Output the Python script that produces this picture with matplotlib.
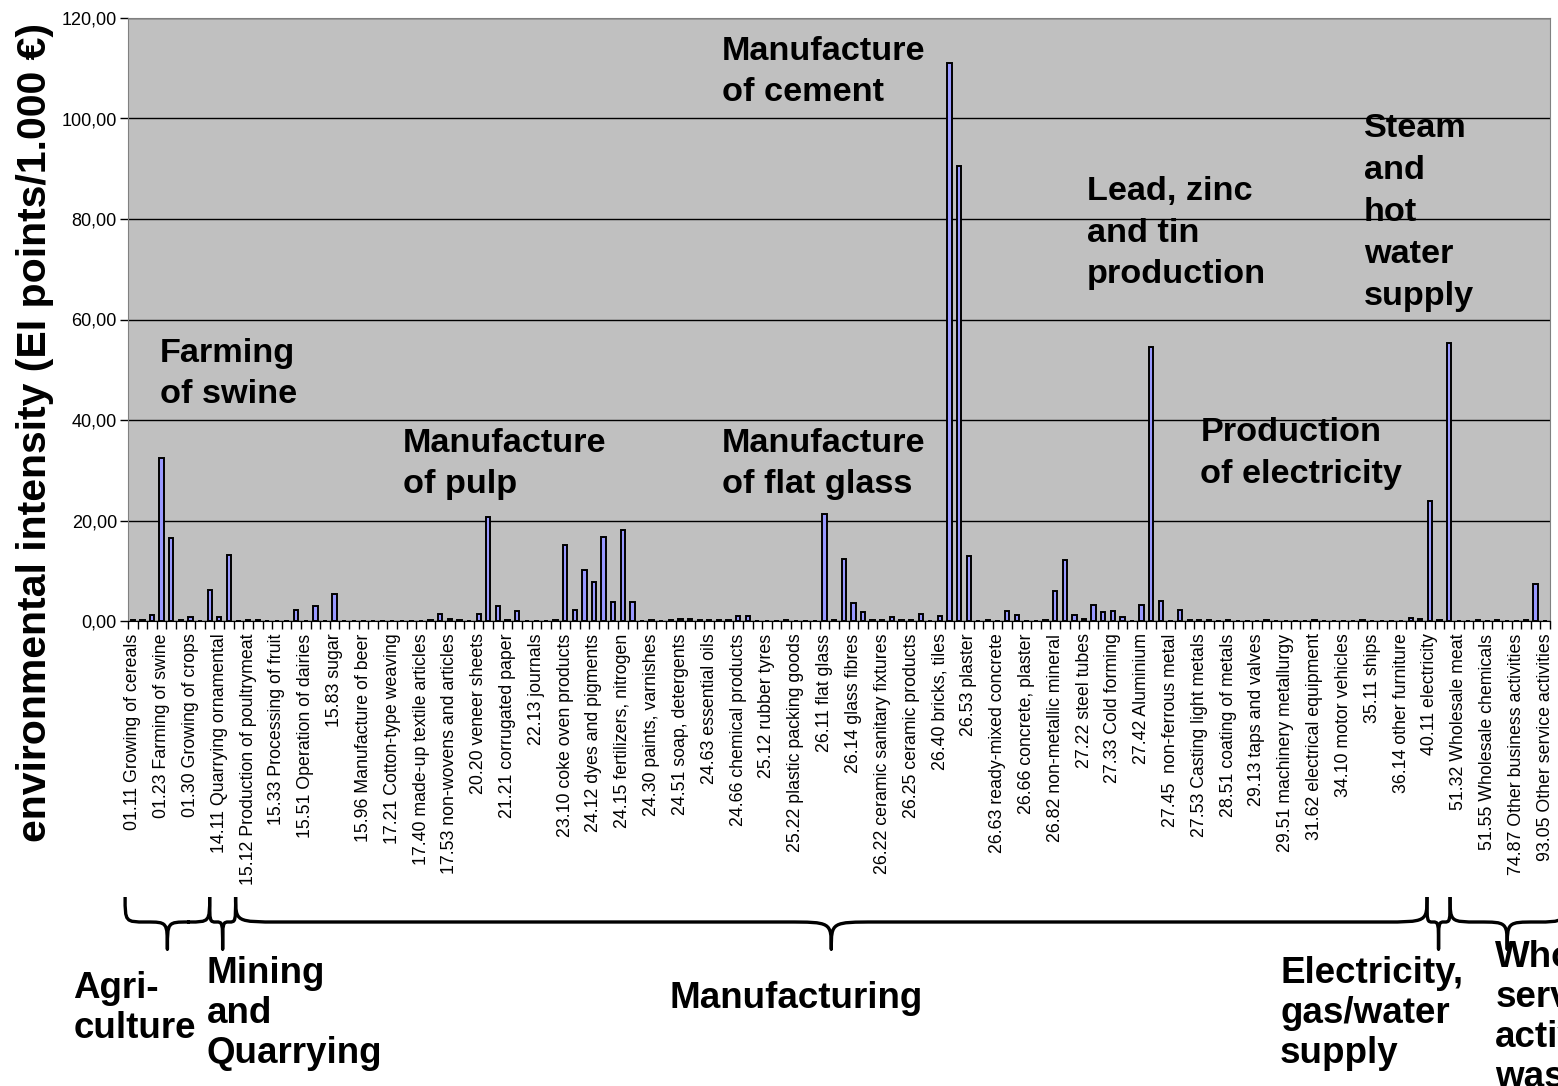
import matplotlib
matplotlib.use("Agg")
import matplotlib.pyplot as plt
import numpy as np
from matplotlib.path import Path
from matplotlib.patches import PathPatch
from matplotlib.ticker import FuncFormatter
from matplotlib.transforms import blended_transform_factory

plt.rcParams['font.family'] = ['Liberation Sans', 'DejaVu Sans']

# ---------------- data ----------------
values = [
    0.2, 0.2, 1.1, 32.5, 16.6, 0.1, 0.7, 0.0, 6.1, 0.75,
    13.1, 0.0, 0.15, 0.1, 0.0, 0.0, 0.0, 2.1, 0.0, 3.0,
    0.0, 5.4, 0.0, 0.0, 0.0, 0.0, 0.0, 0.0, 0.0, 0.0,
    0.0, 0.2, 1.45, 0.3, 0.1, 0.0, 1.45, 20.6, 3.0, 0.2,
    2.0, 0.0, 0.0, 0.0, 0.1, 15.2, 2.1, 10.1, 7.7, 16.8,
    3.7, 18.1, 3.8, 0.0, 0.1, 0.0, 0.1, 0.45, 0.4, 0.2,
    0.2, 0.15, 0.2, 1.0, 0.95, 0.0, 0.0, 0.0, 0.1, 0.0,
    0.0, 0.0, 21.3, 0.1, 12.3, 3.5, 1.75, 0.1, 0.1, 0.85,
    0.1, 0.1, 1.35, 0.05, 0.95, 111.0, 90.5, 12.9, 0.0, 0.15,
    0.0, 1.95, 1.25, 0.05, 0.0, 0.1, 5.95, 12.1, 1.25, 0.45,
    3.15, 1.75, 1.95, 0.75, 0.05, 3.15, 54.6, 3.95, 0.05, 2.2,
    0.1, 0.1, 0.2, 0.0, 0.2, 0.0, 0.0, 0.0, 0.25, 0.0,
    0.0, 0.0, 0.0, 0.1, 0.0, 0.0, 0.0, 0.0, 0.1, 0.0,
    0.0, 0.0, 0.0, 0.55, 0.35, 23.9, 0.2, 55.3, 0.0, 0.0,
    0.1, 0.0, 0.1, 0.0, 0.0, 0.1, 7.3, 0.0,
]

tick_labels = [
    "01.11 Growing of cereals", "01.23 Farming of swine", "01.30 Growing of crops",
    "14.11 Quarrying ornamental", "15.12 Production of poultrymeat",
    "15.33 Processing of fruit", "15.51 Operation of dairies", "15.83 sugar",
    "15.96 Manufacture of beer", "17.21 Cotton-type weaving",
    "17.40 made-up textile articles", "17.53 non-wovens and articles",
    "20.20 veneer sheets", "21.21 corrugated paper", "22.13 journals",
    "23.10 coke oven products", "24.12 dyes and pigments",
    "24.15 fertilizers, nitrogen", "24.30 paints, varnishes",
    "24.51 soap, detergents", "24.63 essential oils", "24.66 chemical products",
    "25.12 rubber tyres", "25.22 plastic packing goods", "26.11 flat glass",
    "26.14 glass fibres", "26.22 ceramic sanitary fixtures",
    "26.25 ceramic products", "26.40 bricks, tiles", "26.53 plaster",
    "26.63 ready-mixed concrete", "26.66 concrete, plaster",
    "26.82 non-metallic mineral", "27.22 steel tubes", "27.33 Cold forming",
    "27.42 Aluminium", "27.45  non-ferrous metal", "27.53 Casting light metals",
    "28.51 coating of metals", "29.13 taps and valves",
    "29.51 machinery metallurgy", "31.62 electrical equipment",
    "34.10 motor vehicles", "35.11 ships", "36.14 other furniture",
    "40.11 electricity", "51.32 Wholesale meat", "51.55 Wholesale chemicals",
    "74.87 Other business activities", "93.05 Other service activities",
]
label_step = 3

y_ticks = [0, 20, 40, 60, 80, 100, 120]
y_label = "environmental intensity (EI points/1.000 €)"

# highlighted sectors: text, x (category), y (value) of the text's top-left corner
annotations = [
    ("Farming\nof swine", 2.83, 56.4),
    ("Manufacture\nof pulp", 28.1, 38.5),
    ("Manufacture\nof flat glass", 61.3, 38.5),
    ("Manufacture\nof cement", 61.3, 116.5),
    ("Lead, zinc\nand tin\nproduction", 99.3, 88.6),
    ("Steam\nand\nhot\nwater\nsupply", 128.1, 101.0),
    ("Production\nof electricity", 111.1, 40.5),
]

# sector groups: label, first category edge, last category edge, label x (category)
groups = [
    ("Agri-\nculture", -0.8, 8.0, -6.2),
    ("Mining\nand\nQuarrying", 8.0, 10.7, 7.7),
    ("Manufacturing", 10.7, 134.7, 55.9),
    ("Electricity,\ngas/water\nsupply", 134.7, 137.1, 119.4),
    ("Wholesale,\nservice\nactivities,\nwaste", 137.1, 149.0, 141.8),
]

# ---------------- figure ----------------
W, H = 1558, 1086
fig = plt.figure(figsize=(W / 100, H / 100), dpi=100)
ax = fig.add_axes([128 / W, 1 - 621 / H, (1550 - 128) / W, (621 - 18) / H])
ax.set_facecolor('#C0C0C0')

x = np.arange(len(values))
ax.bar(x, values, width=0.45, color='#9999FF', edgecolor='black',
       linewidth=1.4, zorder=3)
ax.set_xlim(-0.5, len(values) - 0.5)
ax.set_ylim(0, 120)

ax.set_yticks(y_ticks)
ax.yaxis.set_major_formatter(FuncFormatter(lambda v, p: f"{v:.2f}".replace('.', ',')))
ax.yaxis.grid(True, color='black', linewidth=1)
ax.set_axisbelow(True)
ax.tick_params(axis='y', length=6, width=1, labelsize=13, color='black', pad=2)

ax.set_xticks(x[::label_step])
ax.set_xticklabels(tick_labels, rotation=90, fontsize=12.8, va='top')
ax.tick_params(axis='x', which='major', length=0, pad=9)
ax.set_xticks(np.arange(-0.5, len(values)), minor=True)
ax.tick_params(axis='x', which='minor', length=6, width=1, color='black')

for s in ['top', 'right', 'left']:
    ax.spines[s].set_color('#808080')
ax.spines['bottom'].set_color('black')

# y axis title
fig.text(35 / W, 1 - 432 / H, y_label, rotation=90, ha='center', va='center',
         fontsize=29.5, fontweight='bold')

# annotations inside the plot
for txt, xa, ya in annotations:
    ax.text(xa, ya, txt, ha='left', va='top', fontsize=24.7, fontweight='bold',
            linespacing=1.45, zorder=5)

# sector braces and labels under the axis
fig.canvas.draw()
y_top, y_mid, y_tip = 897, 922, 949


def px(xd):
    return ax.transData.transform((xd, 0))[0]


tr = blended_transform_factory(ax.transData, fig.transFigure)
for name, x0, x1, xl in groups:
    a, b = px(x0), px(x1)
    m = (a + b) / 2
    r = min(45.0, (b - a) / 4)
    pts = [
        (a, y_top), (a, y_mid), (a, y_mid), (a + r, y_mid),
        (m - r, y_mid),
        (m, y_mid), (m, y_mid), (m, y_tip),
        (m, y_mid), (m, y_mid), (m + r, y_mid),
        (b - r, y_mid),
        (b, y_mid), (b, y_mid), (b, y_top),
    ]
    codes = [Path.MOVETO, Path.CURVE4, Path.CURVE4, Path.CURVE4,
             Path.LINETO,
             Path.CURVE4, Path.CURVE4, Path.CURVE4,
             Path.CURVE4, Path.CURVE4, Path.CURVE4,
             Path.LINETO,
             Path.CURVE4, Path.CURVE4, Path.CURVE4]
    verts = [(px_ / W, 1 - py_ / H) for px_, py_ in pts]
    fig.add_artist(PathPatch(Path(verts, codes), transform=fig.transFigure,
                             fill=False, edgecolor='black', linewidth=2.4,
                             capstyle='butt', joinstyle='round', clip_on=False))
    top = {"Manufacturing": 981, "Agri-\nculture": 971}.get(name, 956)
    if name.startswith("Wholesale"):
        top = 940
    ax.text(xl, 1 - top / H, name, transform=tr, ha='left', va='top',
            fontsize=26.5, fontweight='bold', linespacing=1.18, clip_on=False)

fig.savefig("out.png", dpi=100)
